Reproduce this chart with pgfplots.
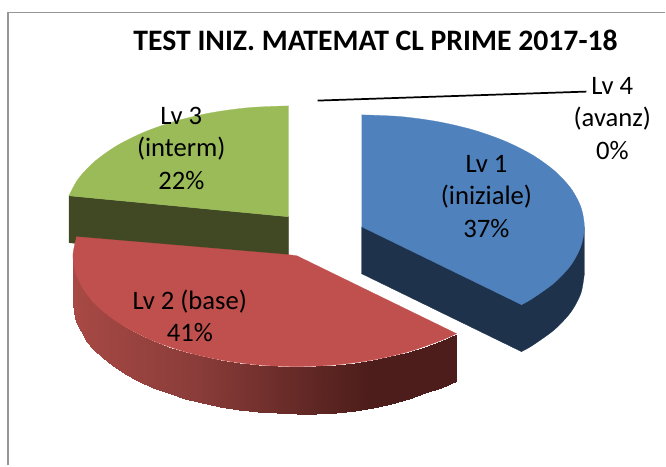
\documentclass[border=0pt]{standalone}
\usepackage{fontspec}
\setmainfont{Carlito}
\usepackage{pgfplots}
\pgfplotsset{compat=1.18}
\definecolor{blutop}{HTML}{4F81BD}
\definecolor{bluside}{RGB}{30,50,75}
\definecolor{redtop}{HTML}{C0504D}
\definecolor{gretop}{HTML}{9BBB59}
\definecolor{greside}{RGB}{64,73,35}
\definecolor{framec}{RGB}{150,150,150}
\begin{document}
\begin{tikzpicture}
\begin{axis}[
  scale only axis,
  width=499.5pt, height=349.5pt,
  xmin=0, xmax=666, ymin=0, ymax=466,
  y dir=reverse,
  hide axis,
  clip=false,
  colormap={redside}{rgb255(0pt)=(168,73,69); rgb255(127pt)=(137,60,57); rgb255(257pt)=(90,36,33); rgb255(297pt)=(77,29,27); rgb255(384pt)=(77,29,27)},
  point meta min=73, point meta max=457,
  thin fill/.style={draw=#1, fill=#1, line width=0.2pt},
]
% hidden axis adds nothing to the bounding box, so keep the full page here
\path (axis cs:0,0) rectangle (axis cs:666,466);
% frame, only top and left show
\addplot[framec, line width=1.1pt] coordinates {(8,466) (8,12.5) (666,12.5)};

% Lv 3 (22%)
\addplot[thin fill=greside] coordinates {(69,196) (289,217) (289,264) (69,243)};
\addplot[thin fill=gretop] coordinates {(289,106) (145,140) (69,196) (289,217)};
\addplot[thin fill=gretop, smooth] coordinates {
  (289,106) (250,107.7) (212.4,112.7) (177,120.9) (145,132) (117.4,145.6)
  (95,161.5) (78.4,179) (69,196)};

% Lv 2 (41%)
\addplot[surf, shader=interp, mesh/rows=2, point meta=x] coordinates {
  (73,256) (73.9,265.7) (76.4,275.3) (80.6,284.7) (86.5,294) (94,302.9) (103,311.5)
  (113.5,319.7) (125.4,327.3) (138.6,334.5) (153,341) (168.5,346.9) (185,352.1)
  (202.3,356.6) (220.4,360.3) (239,363.2) (258.1,365.3) (277.5,366.6) (297,367)
  (316.5,366.6) (335.9,365.3) (355,363.2) (373.6,360.3) (391.7,356.6) (409,352.1)
  (425.5,346.9) (441,341) (457,334)

  (73,303) (73.9,312.7) (76.4,322.3) (80.6,331.7) (86.5,341) (94,349.9) (103,358.5)
  (113.5,366.7) (125.4,374.3) (138.6,381.5) (153,388) (168.5,393.9) (185,399.1)
  (202.3,403.6) (220.4,407.3) (239,410.2) (258.1,412.3) (277.5,413.6) (297,414.5)
  (316.5,414.5) (335.9,413.5) (355,411.2) (373.6,408) (391.7,404) (409,399.1)
  (425.5,393.9) (441,388) (457,381.5)};
\addplot[thin fill=redtop] coordinates {(457,334) (297,256) (289,255) (76.7,237) (90,285) (185,345) (297,360)};
\addplot[thin fill=redtop, smooth] coordinates {
  (457,334) (441,341) (409,352.1) (373.6,360.3) (335.9,365.3) (297,367) (258.1,365.3)
  (220.4,360.3) (185,352.1) (153,341) (125.4,327.3) (103,311.5) (86.5,294)
  (76.4,275.3) (73,256) (76.7,237)};

% Lv 1 (37%)
\addplot[thin fill=bluside] coordinates {(362,227) (362,274) (522,352) (560,318) (585,274) (585,227)};
\addplot[thin fill=bluside, smooth] coordinates {
  (522,352) (532.8,346) (555.1,330) (571.6,312.3) (581.6,293.4) (585,274)};
\addplot[thin fill=blutop] coordinates {(362,115) (505,150) (575,227) (522,305) (362,227)};
\addplot[thin fill=blutop, smooth] coordinates {
  (362,115) (400.7,116.7) (438.3,121.8) (473.5,130) (505.3,141.2) (532.8,155)
  (555.1,171) (571.6,188.7) (581.6,207.6) (585,227) (581.6,246.4) (571.6,265.3)
  (555.1,283) (532.8,299) (522,305)};

% Lv 4 leader
\addplot[black, line width=1.3pt] coordinates {(318,100.7) (587,91.7)};

\node[font=\bfseries\fontsize{22.3}{26}\selectfont, anchor=center] at (axis cs:376,40.5) {TEST INIZ. MATEMAT CL PRIME 2017-18};
\tikzset{lab/.style={font=\fontsize{20}{24.4}\selectfont, align=center, anchor=center, inner sep=0pt}}
\node[lab] at (axis cs:181.5,148.5) {Lv 3\\(interm)\\22\%};
\node[lab] at (axis cs:487,196.5) {Lv 1\\(iniziale)\\37\%};
\node[lab] at (axis cs:190,316) {Lv 2 (base)\\41\%};
\node[lab] at (axis cs:613,118.5) {Lv 4\\(avanz)\\0\%};
\end{axis}
\end{tikzpicture}
\end{document}
